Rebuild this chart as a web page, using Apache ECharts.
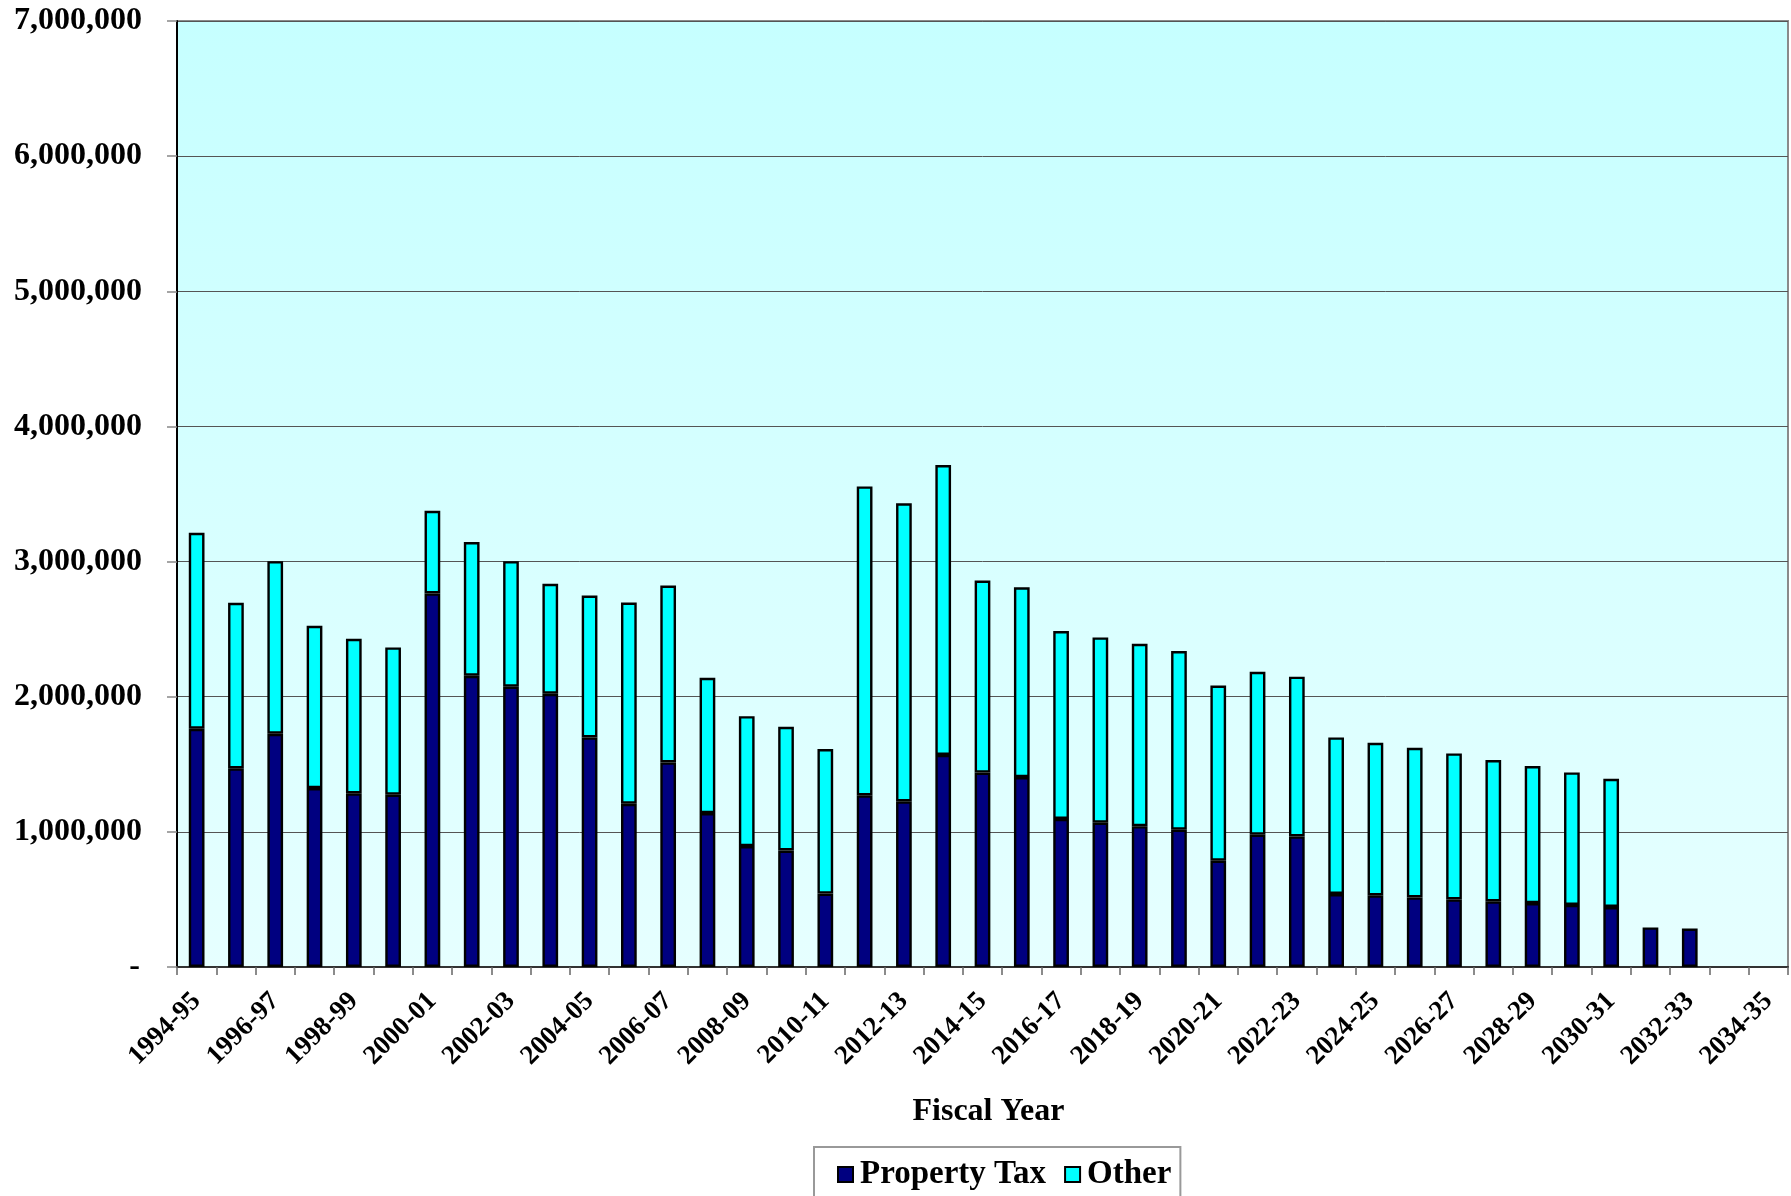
<!DOCTYPE html>
<html>
<head>
<meta charset="utf-8">
<style>
  html, body { margin: 0; padding: 0; background: #ffffff; }
  #chart { width: 1791px; height: 1196px; }
</style>
<script src="https://cdn.jsdelivr.net/npm/echarts@6/dist/echarts.min.js"></script>
</head>
<body>
<div id="chart"></div>
<script>
// Fiscal years on the category axis
const fiscalYears = [
  '1994-95','1995-96','1996-97','1997-98','1998-99','1999-00','2000-01','2001-02',
  '2002-03','2003-04','2004-05','2005-06','2006-07','2007-08','2008-09','2009-10',
  '2010-11','2011-12','2012-13','2013-14','2014-15','2015-16','2016-17','2017-18',
  '2018-19','2019-20','2020-21','2021-22','2022-23','2023-24','2024-25','2025-26',
  '2026-27','2027-28','2028-29','2029-30','2030-31','2031-32','2032-33','2033-34',
  '2034-35'
];

// Revenue from property tax, per fiscal year
const propertyTax = [
  1763000, 1470000, 1726000, 1324000, 1285000, 1275000, 2764000, 2155000,
  2074000, 2022000, 1699000, 1208000, 1514000, 1139000,  895000,  862000,
   543000, 1270000, 1226000, 1569000, 1439000, 1405000, 1096000, 1068000,
  1042000, 1016000,  787000,  979000,  966000,  540000,  530000,  515000,
   500000,  486000,  473000,  459000,  444000,  293000,  284000,    null,
     null
];

// Revenue from other sources, stacked on top of property tax
const otherRevenue = [
  1450000, 1225000, 1277000, 1201000, 1144000, 1090000,  612000,  989000,
   929000,  814000, 1050000, 1489000, 1309000, 1001000,  961000,  915000,
  1070000, 2286000, 2205000, 2145000, 1421000, 1405000, 1390000, 1371000,
  1350000, 1322000, 1296000, 1205000, 1182000, 1159000, 1129000, 1107000,
  1080000, 1045000, 1014000,  981000,  949000,    null,    null,    null,
     null
];

const serif = '"Liberation Serif", "Times New Roman", serif';

const chart = echarts.init(document.getElementById('chart'), null, { renderer: 'canvas' });

chart.setOption({
  animation: false,
  backgroundColor: '#ffffff',
  grid: {
    left: 177,
    right: 3,
    top: 21,
    bottom: 229,
    show: true,
    borderColor: '#8a8a8a',
    borderWidth: 2,
    backgroundColor: new echarts.graphic.LinearGradient(0, 0, 0, 1, [
      { offset: 0, color: '#c6ffff' },
      { offset: 1, color: '#e6ffff' }
    ])
  },
  legend: {
    left: 814,
    top: 1147,
    padding: [11, 9, 9, 23],
    borderColor: '#999999',
    borderWidth: 2,
    itemGap: 18,
    itemWidth: 15,
    itemHeight: 15,
    icon: 'rect',
    textStyle: {
      fontFamily: serif,
      fontWeight: 'bold',
      fontSize: 33,
      color: '#000000',
      padding: [0, 0, 0, 2]
    },
    data: [
      { name: 'Property Tax', itemStyle: { borderColor: '#000', borderWidth: 2 } },
      { name: 'Other', itemStyle: { borderColor: '#000', borderWidth: 2 } }
    ]
  },
  xAxis: {
    type: 'category',
    data: fiscalYears,
    boundaryGap: true,
    name: 'Fiscal Year',
    nameLocation: 'middle',
    nameGap: 129,
    nameTextStyle: {
      fontFamily: serif,
      fontWeight: 'bold',
      fontSize: 32,
      color: '#000000',
      padding: [0, 0, 0, 12]
    },
    axisLine: { show: true, lineStyle: { color: '#333333', width: 2 } },
    axisTick: {
      show: true,
      interval: 0,
      alignWithLabel: false,
      length: 8,
      lineStyle: { color: '#666666', width: 1.5 }
    },
    axisLabel: {
      interval: 1,
      rotate: 45,
      margin: 30,
      fontFamily: serif,
      fontWeight: 'bold',
      fontSize: 27,
      color: '#000000'
    },
    splitLine: { show: false }
  },
  yAxis: {
    type: 'value',
    min: 0,
    max: 7000000,
    interval: 1000000,
    axisLine: { show: true, lineStyle: { color: '#000000', width: 2 } },
    axisTick: { show: true, length: 10, lineStyle: { color: '#888888', width: 1.5 } },
    splitLine: { show: true, lineStyle: { color: '#555555', width: 1 } },
    axisLabel: {
      margin: 35,
      fontFamily: serif,
      fontWeight: 'bold',
      fontSize: 32,
      color: '#000000',
      formatter: function (v) {
        return v === 0 ? '{z|-}' : v.toLocaleString('en-US');
      },
      rich: {
        z: {
          fontFamily: serif,
          fontWeight: 'bold',
          fontSize: 32,
          color: '#000000',
          padding: [0, 2, 0, 0]
        }
      }
    }
  },
  series: [
    {
      name: 'Property Tax',
      type: 'bar',
      stack: 'revenue',
      barWidth: '40%',
      data: propertyTax,
      itemStyle: { color: '#000080', borderColor: '#000000', borderWidth: 2.4 }
    },
    {
      name: 'Other',
      type: 'bar',
      stack: 'revenue',
      barWidth: '40%',
      data: otherRevenue,
      itemStyle: { color: '#00ffff', borderColor: '#000000', borderWidth: 2.4 }
    }
  ]
});
</script>
</body>
</html>
